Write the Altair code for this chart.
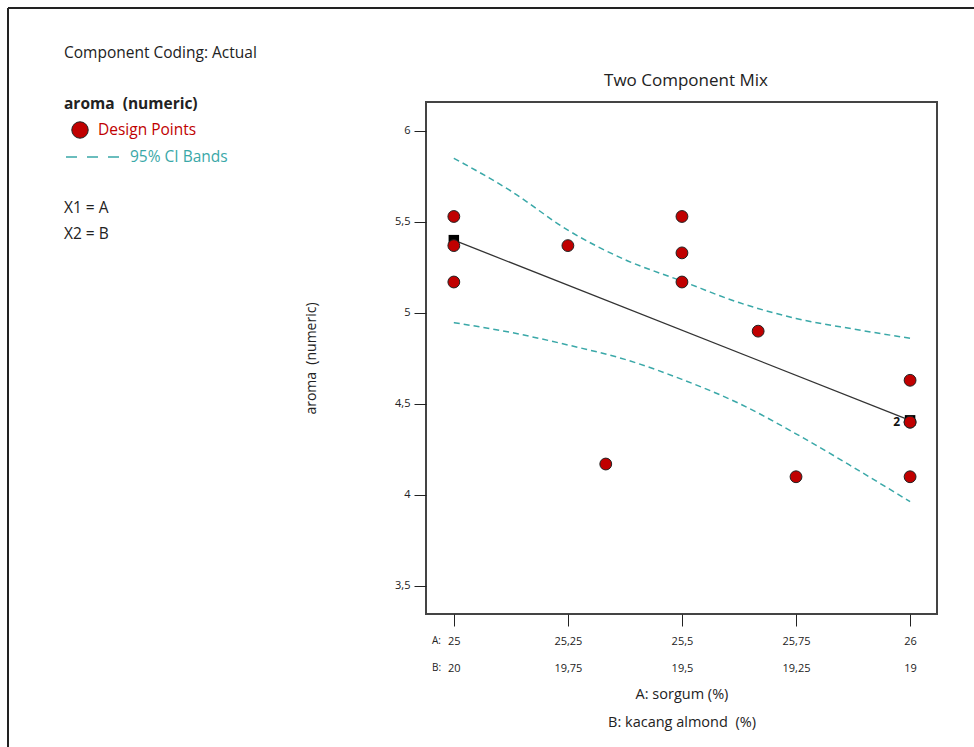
import altair as alt
import pandas as pd

# ---- data ----
A_pts = [25, 25, 25, 25.25, 25.333, 25.5, 25.5, 25.5, 25.667, 25.75, 26, 26, 26, 26]
aroma_pts = [5.53, 5.37, 5.17, 5.37, 4.17, 5.53, 5.33, 5.17, 4.90, 4.10, 4.63, 4.40, 4.40, 4.10]

fit_A = [25, 26]
fit_y = [5.40, 4.41]

band_A = [25, 25.125, 25.25, 25.375, 25.5, 25.625, 25.75, 25.875, 26]
band_upper = [5.850, 5.670, 5.455, 5.293, 5.175, 5.057, 4.970, 4.912, 4.861]
band_lower = [4.947, 4.893, 4.824, 4.745, 4.635, 4.503, 4.336, 4.153, 3.963]

x_ticks = [25, 25.25, 25.5, 25.75, 26]
y_ticks = [3.5, 4, 4.5, 5, 5.5, 6]

FONT = "Open Sans"
RED = "#C00000"
TEAL = "#3AA8A8"
NB = "\u00a0"

# layout constants (pixels)
PL, PT, PR, PB = 426, 102, 37, 133
W, H = 511, 512

pts = pd.DataFrame({"A": A_pts, "aroma": aroma_pts})
fit = pd.DataFrame({"A": fit_A, "aroma": fit_y})
band = pd.concat([
    pd.DataFrame({"A": band_A, "aroma": band_upper, "band": "upper"}),
    pd.DataFrame({"A": band_A, "aroma": band_lower, "band": "lower"}),
])

xscale = alt.Scale(domain=[24.939, 26.059], nice=False, zero=False)
yscale = alt.Scale(domain=[3.346, 6.159], nice=False, zero=False)

x_axis = alt.Axis(
    values=x_ticks, grid=False, tickSize=12, tickColor="#222", domain=False,
    labelFont=FONT, labelFontSize=11, labelColor="#222", labelPadding=9,
    labelLineHeight=27, labelBaseline="top",
    labelExpr="[replace('' + datum.value, '.', ','), replace('' + (45 - datum.value), '.', ',')]",
    title=["A: sorgum (%)", "B: kacang almond" + NB + NB + "(%)"], titleFont=FONT, titleFontSize=14.5,
    titleFontWeight="normal", titleColor="#222", titleLineHeight=28, titlePadding=14,
)
y_axis = alt.Axis(
    values=y_ticks, grid=False, tickSize=12, tickColor="#222", domain=False,
    labelFont=FONT, labelFontSize=11, labelColor="#222", labelPadding=4,
    labelExpr="replace('' + datum.value, '.', ',')",
    title="aroma" + NB + NB + "(numeric)", titleFont=FONT, titleFontSize=14,
    titleFontWeight="normal", titleColor="#222", titlePadding=76,
)

X = alt.X("A:Q", scale=xscale, axis=x_axis)
Y = alt.Y("aroma:Q", scale=yscale, axis=y_axis)

band_layer = alt.Chart(band).mark_line(
    color=TEAL, strokeDash=[6, 4], strokeWidth=1.5, interpolate="monotone"
).encode(x=alt.X("A:Q", scale=xscale), y=alt.Y("aroma:Q", scale=yscale), detail="band:N")

fit_layer = alt.Chart(fit).mark_line(color="#333", strokeWidth=1.3).encode(
    x=alt.X("A:Q", scale=xscale), y=alt.Y("aroma:Q", scale=yscale))

sq_layer = alt.Chart(fit).mark_square(color="black", size=110, opacity=1).encode(
    x=alt.X("A:Q", scale=xscale), y=alt.Y("aroma:Q", scale=yscale))

pts_layer = alt.Chart(pts).mark_circle(
    size=140, color=RED, stroke="#222", strokeWidth=1, opacity=1
).encode(x=X, y=Y)

two_layer = alt.Chart(pd.DataFrame({"A": [26], "aroma": [4.40], "t": ["2"]})).mark_text(
    font=FONT, fontSize=12, fontWeight="bold", color="#111", align="right", dx=-10, dy=0
).encode(x=alt.X("A:Q", scale=xscale), y=alt.Y("aroma:Q", scale=yscale), text="t:N")

one = alt.Data(values=[{}])

def txt(s, x, y, size=15.5, color="#222", weight="normal", align="left"):
    return alt.Chart(one).mark_text(
        text=s, font=FONT, fontSize=size, color=color, fontWeight=weight,
        align=align, baseline="middle"
    ).encode(x=alt.value(x - PL), y=alt.value(y - PT))

legend = [
    txt("Two Component Mix", 686, 81, size=17, align="center"),
    txt("Component Coding: Actual", 64, 53),
    txt("aroma" + NB + NB + "(numeric)", 64, 104, weight="bold"),
    alt.Chart(one).mark_point(shape="circle", filled=True, size=270, color=RED,
                              stroke="#222", strokeWidth=1, opacity=1).encode(
        x=alt.value(80 - PL), y=alt.value(130 - PT)),
    txt("Design Points", 98, 130, color=RED),
    alt.Chart(one).mark_rule(color=TEAL, strokeDash=[11, 10], strokeWidth=1.5).encode(
        x=alt.value(66 - PL), x2=alt.value(120 - PL), y=alt.value(157 - PT)),
    txt("95% CI Bands", 130, 157, color=TEAL),
    txt("X1 = A", 64, 208),
    txt("X2 = B", 64, 234),
    txt("A:", 432, 641, size=10),
    txt("B:", 432, 668, size=10),
]

border = [
    alt.Chart(one).mark_rule(color="#222", strokeWidth=2).encode(
        x=alt.value(8 - PL), x2=alt.value(974 - PL + 5), y=alt.value(8 - PT)),
    alt.Chart(one).mark_rule(color="#222", strokeWidth=2).encode(
        x=alt.value(8 - PL), y=alt.value(8 - PT), y2=alt.value(747 - PT + 5)),
]

chart = alt.layer(
    band_layer, fit_layer, sq_layer, pts_layer, two_layer, *legend, *border
).properties(
    width=W, height=H,
    autosize=alt.AutoSizeParams(type="none"),
    padding={"left": PL, "top": PT, "right": PR, "bottom": PB},
    background="white",
).configure_view(stroke="#444", strokeWidth=2)

chart.save("out.html", embed_options={"renderer": "svg", "actions": False})
